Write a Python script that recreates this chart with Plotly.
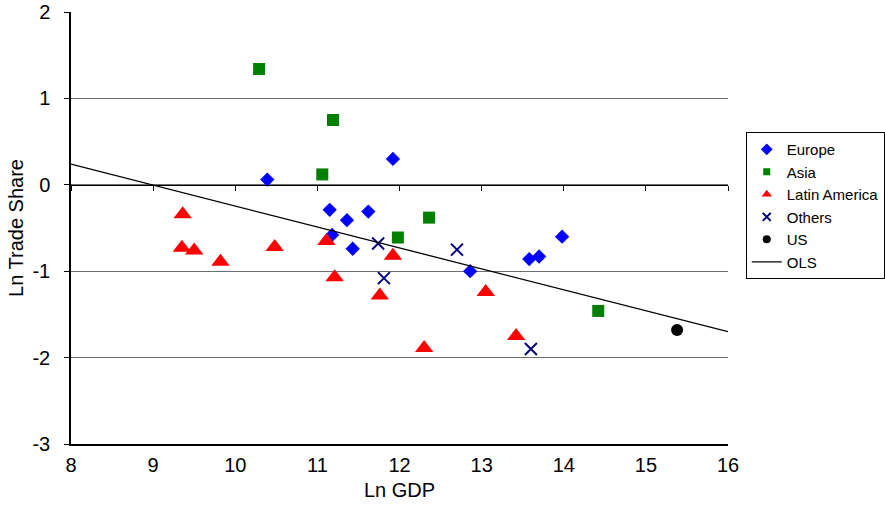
import plotly.graph_objects as go

# Data
europe_x = [10.39, 11.92, 11.15, 11.36, 11.62, 11.18, 11.43, 13.98, 12.86, 13.58, 13.70]
europe_y = [0.06, 0.30, -0.29, -0.41, -0.31, -0.58, -0.74, -0.60, -1.00, -0.86, -0.83]

asia_x = [10.29, 11.19, 11.06, 12.36, 11.98, 14.42]
asia_y = [1.34, 0.75, 0.12, -0.38, -0.61, -1.46]

latam_x = [9.36, 9.35, 9.50, 9.82, 10.48, 11.11, 11.92, 11.21, 11.76, 13.05, 12.30, 13.42]
latam_y = [-0.34, -0.73, -0.76, -0.89, -0.72, -0.65, -0.82, -1.07, -1.28, -1.24, -1.89, -1.75]

others_x = [11.74, 12.70, 11.81, 13.60]
others_y = [-0.68, -0.75, -1.08, -1.90]

us_x = [15.38]
us_y = [-1.68]

ols_x = [8, 16]
ols_y = [0.239, -1.70]

x_ticks = [8, 9, 10, 11, 12, 13, 14, 15, 16]
y_ticks = [-3, -2, -1, 0, 1, 2]
y_ticktext = ["-3", "-2", "-1", "0", "1", "2"]

FONT = "Liberation Sans, Arial, sans-serif"

series = [
    ("Europe", europe_x, europe_y, dict(symbol="diamond", color="#0000FF"), 11, 9),
    ("Asia", asia_x, asia_y, dict(symbol="square", color="#008000"), 12, 7),
    ("Latin America", latam_x, latam_y, dict(symbol="triangle-up", color="#FF0000"), 16, 9),
    ("Others", others_x, others_y, dict(symbol="x-thin", color="#000080",
                                        line=dict(width=2, color="#000080")), 12, 8),
    ("US", us_x, us_y, dict(symbol="circle", color="#000000"), 12, 8),
]

fig = go.Figure()
for name, xs, ys, mk, size, lsize in series:
    fig.add_trace(go.Scatter(x=xs, y=ys, mode="markers", name=name, showlegend=False,
                             marker=dict(size=size, **mk)))
    # legend-only entry with a small symbol, like the reference legend
    fig.add_trace(go.Scatter(x=[None], y=[None], mode="markers", name=name,
                             marker=dict(size=lsize, **mk)))

fig.add_trace(go.Scatter(x=ols_x, y=ols_y, mode="lines", name="OLS",
                         line=dict(color="#000000", width=1.3), xaxis="x2"))

fig.update_layout(
    width=885, height=508,
    margin=dict(l=71, r=157, t=12, b=64, autoexpand=False),
    paper_bgcolor="white", plot_bgcolor="white",
    font=dict(family=FONT, size=20, color="#000000"),
    showlegend=True,
    legend=dict(x=1.027, y=0.722, xanchor="left", yanchor="top",
                bordercolor="#000000", borderwidth=1,
                font=dict(size=15, family=FONT),
                itemsizing="trace", tracegroupgap=0,
                itemwidth=30, entrywidth=120),
    xaxis=dict(range=[8, 16], tickvals=x_ticks, ticks="", showgrid=False,
               zeroline=False, showline=True, linecolor="#000000", linewidth=1.5,
               automargin=False,
               title=dict(text="Ln GDP", standoff=8, font=dict(size=20)),
               ticklabelstandoff=2, tickfont=dict(size=20)),
    xaxis2=dict(range=[8, 16], tickvals=x_ticks, overlaying="x", anchor="free",
                position=0.6, side="bottom", ticks="outside", ticklen=5,
                tickcolor="#000000", showticklabels=False, showgrid=False,
                zeroline=False, showline=True, linecolor="#000000", linewidth=1.3),
    yaxis=dict(range=[-3, 2], tickvals=y_ticks, ticktext=y_ticktext,
               ticks="outside", ticklen=5,
               tickcolor="#000000", showgrid=True, gridcolor="#6e6e6e", gridwidth=1.2,
               zeroline=False, showline=True, linecolor="#000000", linewidth=1.5,
               automargin=False,
               title=dict(text="Ln Trade Share", standoff=3, font=dict(size=20)),
               ticklabelstandoff=10, tickfont=dict(size=20)),
)

fig.write_html("out.html")
